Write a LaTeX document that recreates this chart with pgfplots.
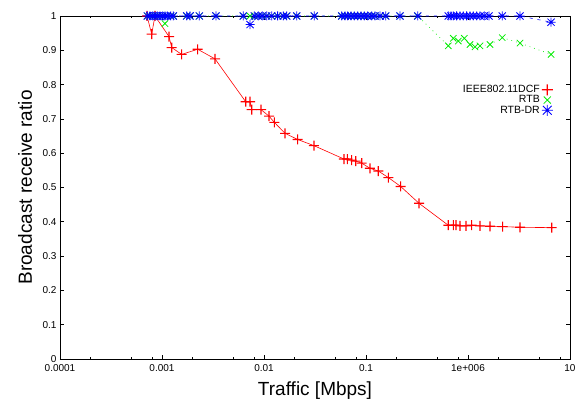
\documentclass[border=0pt]{standalone}
\usepackage{pgfplots}
\pgfplotsset{compat=1.18}
\usepackage{fontspec}
\setmainfont{Liberation Sans}
\pgfdeclareplotmark{ast8}{%
 \pgfpathmoveto{\pgfqpoint{0pt}{\pgfplotmarksize}}\pgfpathlineto{\pgfqpoint{0pt}{-\pgfplotmarksize}}%
 \pgfpathmoveto{\pgfqpoint{\pgfplotmarksize}{0pt}}\pgfpathlineto{\pgfqpoint{-\pgfplotmarksize}{0pt}}%
 \pgfpathmoveto{\pgfqpoint{0.8\pgfplotmarksize}{0.8\pgfplotmarksize}}\pgfpathlineto{\pgfqpoint{-0.8\pgfplotmarksize}{-0.8\pgfplotmarksize}}%
 \pgfpathmoveto{\pgfqpoint{-0.8\pgfplotmarksize}{0.8\pgfplotmarksize}}\pgfpathlineto{\pgfqpoint{0.8\pgfplotmarksize}{-0.8\pgfplotmarksize}}%
 \pgfusepathqstroke}
\pgfdeclareplotmark{plusf}{%
 \pgfpathrectangle{\pgfqpoint{-0.55pt}{-\pgfplotmarksize}}{\pgfqpoint{1.1pt}{2\pgfplotmarksize}}%
 \pgfpathrectangle{\pgfqpoint{-\pgfplotmarksize}{-0.55pt}}{\pgfqpoint{2\pgfplotmarksize}{1.1pt}}%
 \pgfusepathqfill}
\definecolor{gpred}{rgb}{1,0,0}
\definecolor{gpgreen}{RGB}{0,235,0}
\definecolor{gpblue}{RGB}{0,0,255}
\pgfplotstableread{
x y
7.13e-4 1.0
7.93e-4 0.947
8.53e-4 1.0
1.172e-3 0.94
1.245e-3 0.908
1.560e-3 0.888
2.239e-3 0.903
3.31e-3 0.875
6.62e-3 0.750
7.30e-3 0.750
7.58e-3 0.727
9.35e-3 0.727
1.12e-2 0.708
1.262e-2 0.690
1.607e-2 0.658
2.138e-2 0.640
3.09e-2 0.622
6.08e-2 0.583
6.56e-2 0.583
7.24e-2 0.580
7.93e-2 0.577
9.08e-2 0.571
0.1094 0.556
0.1320 0.548
0.1656 0.529
0.2188 0.503
0.331 0.454
0.641 0.390
0.718 0.390
0.762 0.390
0.835 0.388
0.955 0.388
1.087 0.390
1.311 0.388
1.644 0.387
2.188 0.386
3.236 0.384
6.62 0.383
}\dcf
\pgfplotstableread{
x y
7.18e-4 1
7.62e-4 1
8.11e-4 1
8.53e-4 1
8.99e-4 1
9.55e-4 1
1.016e-3 1
1.069e-3 0.978
1.127e-3 1
1.216e-3 1
1.291e-3 1
1.746e-3 1
1.884e-3 1
2.323e-3 1
3.38e-3 1
6.26e-3 1
7.30e-3 1
8.04e-3 1
8.79e-3 1
9.61e-3 1
1.062e-2 1
1.189e-2 1
1.361e-2 1
1.545e-2 1
1.671e-2 1
2.094e-2 1
3.11e-2 1
5.78e-2 1
6.22e-2 1
6.62e-2 1
7.13e-2 1
7.67e-2 1
8.30e-2 1
8.93e-2 1
9.62e-2 1
0.1040 1
0.1138 1
0.1225 1
0.1371 1
0.1560 1
0.2153 1
0.3214 1
0.641 0.913
0.718 0.935
0.804 0.927
0.920 0.935
1.047 0.917
1.172 0.910
1.311 0.913
1.644 0.917
2.168 0.937
3.236 0.921
6.52 0.888
}\rtb
\pgfplotstableread{
x y
7.18e-4 1
7.62e-4 1
8.11e-4 1
8.53e-4 1
8.99e-4 1
9.55e-4 1
1.016e-3 1
1.069e-3 1
1.127e-3 1
1.216e-3 1
1.291e-3 1
1.746e-3 1
1.884e-3 1
2.323e-3 1
3.38e-3 1
6.26e-3 1
7.30e-3 0.975
8.04e-3 1
8.79e-3 1
9.61e-3 1
1.062e-2 1
1.189e-2 1
1.361e-2 1
1.545e-2 1
1.671e-2 1
2.094e-2 1
3.11e-2 1
5.78e-2 1
6.22e-2 1
6.62e-2 1
7.13e-2 1
7.67e-2 1
8.30e-2 1
8.93e-2 1
9.62e-2 1
0.1040 1
0.1138 1
0.1225 1
0.1371 1
0.1560 1
0.2153 1
0.3214 1
0.641 1
0.681 1
0.718 1
0.774 1
0.835 1
0.900 1
0.970 1
1.047 1
1.127 1
1.216 1
1.311 1
1.445 1
1.607 1
2.168 1
3.236 1
6.52 0.982
}\rtbdr
\begin{document}
\begin{tikzpicture}
\begin{axis}[
 scale only axis, width=510pt, height=343pt,
 xmode=log, xmin=1e-4, xmax=10, ymin=0, ymax=1,
 clip=false,
 xtick={1e-4,1e-3,1e-2,1e-1,1,10},
 xticklabels={0.0001,0.001,0.01,0.1,1e+006,10},
 minor xtick={2e-4,5e-4,8e-4,2e-3,5e-3,8e-3,2e-2,5e-2,8e-2,0.2,0.5,0.8,2,5,8},
 ytick={0,0.1,0.2,0.3,0.4,0.5,0.6,0.7,0.8,0.9,1},
 yticklabels={0,0.1,0.2,0.3,0.4,0.5,0.6,0.7,0.8,0.9,1},
 tick align=inside, major tick length=4pt, minor tick length=2pt,
 tick style={black, line width=0.6pt},
 axis line style={line width=0.8pt},
 ticklabel style={font=\fontsize{10}{12}\selectfont},
 xticklabel style={yshift=-2pt},
 /pgf/number format/assume math mode=true,
 xlabel={Traffic [Mbps]}, ylabel={Broadcast receive ratio},
 label style={font=\fontsize{19}{22}\selectfont},
 xlabel style={at={(axis description cs:0.5,-0.0933)}, anchor=center},
 ylabel style={at={(axis description cs:-0.0686,0.5)}, anchor=center},
 legend style={draw=none, fill=none, at={(axis description cs:0.9725,0.81)}, anchor=north east,
   font=\fontsize{10.5}{12}\selectfont, row sep=-2.5pt},
 legend cell align=right, legend plot pos=right,
]
\addplot[forget plot, color=gpred, line width=0.6pt, mark=plusf, mark size=5pt, mark options={solid, draw=none, fill=gpred}] table {\dcf};
\addplot[forget plot, color=gpgreen, line width=0.6pt, dash pattern=on 0.8pt off 4pt, mark=x, mark size=4.5pt, mark options={solid, draw=gpgreen, line width=0.8pt}] table {\rtb};
\addplot[forget plot, color=gpblue, line width=0.6pt, dash pattern=on 3pt off 5pt, mark=ast8, mark size=4.5pt, mark options={solid, draw=gpblue, line width=0.8pt}] table {\rtbdr};
\addlegendimage{only marks, color=gpred, mark=plusf, mark size=5.5pt, mark options={draw=none, fill=gpred}}
\addlegendentry{IEEE802.11DCF}
\addlegendimage{only marks, color=gpgreen, line width=0.8pt, mark=x, mark size=5pt, mark options={draw=gpgreen}}
\addlegendentry{RTB}
\addlegendimage{only marks, color=gpblue, line width=0.8pt, mark=ast8, mark size=5.5pt, mark options={draw=gpblue}}
\addlegendentry{RTB-DR}
\coordinate (ll) at (rel axis cs:0,0);
\coordinate (ur) at (rel axis cs:1,1);
\end{axis}
\pgfresetboundingbox
\path[use as bounding box] ([shift={(-60pt,-48pt)}]ll) rectangle ([shift={(9pt,16pt)}]ur);
\end{tikzpicture}
\end{document}
